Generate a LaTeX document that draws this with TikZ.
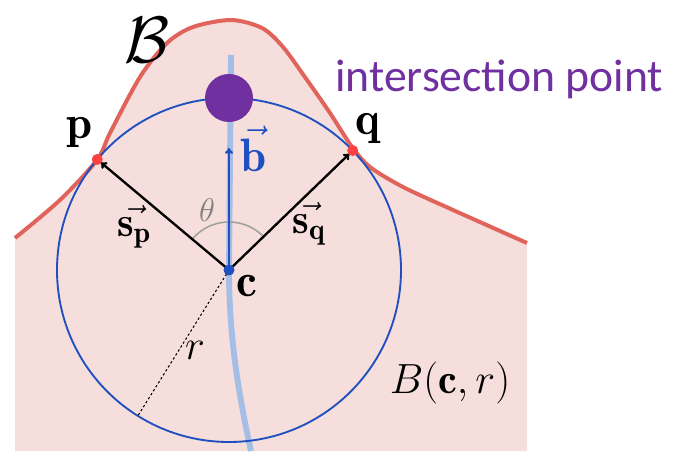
\RequirePackage{fix-cm}
\documentclass[tikz,border=0pt]{standalone}
\usepackage{amsmath,amssymb}
\usepackage{fontspec}
\newfontfamily\calibrifont{Carlito}
\usepackage{xcolor}
\usepackage{tikz}
\usetikzlibrary{arrows.meta, calc}

\definecolor{regionpink}{HTML}{F6DEDC}
\definecolor{boundred}{HTML}{E0645C}
\definecolor{ballblue}{HTML}{2050C0}
\definecolor{pathblue}{HTML}{A4BEE6}
\definecolor{ipurple}{HTML}{7030A0}
\definecolor{ptred}{HTML}{FF4040}

\begin{document}
\begin{tikzpicture}[x=0.03cm, y=0.03cm,
  lbl/.style={font=\fontsize{36}{40}\selectfont, inner sep=0pt},
  bigl/.style={font=\fontsize{40}{44}\selectfont, inner sep=0pt},
  vecarrow/.style={-{To[length=5pt, width=7pt]}, line width=2pt, shorten >=4pt}]
  \useasboundingbox (0,0) rectangle (682,451);
  % region under the boundary curve B (1 unit = 1 px of the sketch)
  \fill[regionpink] plot[smooth, tension=0.5] coordinates {(15,213) (60,251) (97,291) (110,318) (140,374) (167,408) (193,424) (231,431) (262,423) (283,404) (307,371) (330,338) (352,304) (370,284) (403,264) (453,241) (527,208)}
    -- (527,0) -- (15,0) -- cycle;
  \draw[boundred, line width=3.4pt] plot[smooth, tension=0.5] coordinates {(15,213) (60,251) (97,291) (110,318) (140,374) (167,408) (193,424) (231,431) (262,423) (283,404) (307,371) (330,338) (352,304) (370,284) (403,264) (453,241) (527,208)};
  % centre, ball radius r = 172
  \coordinate (c) at (229,181);
  \coordinate (p) at ($(c)+(140:172)$);
  \coordinate (q) at ($(c)+(44:172)$);
  \coordinate (ip) at ($(c)+(90:172)$);
  \coordinate (rend) at ($(c)+(238:172)$);
  \coordinate (btip) at ($(c)+(90:122)$);
  \coordinate (ptop) at (231,396);
  \coordinate (pbot) at (251,0);
  % light path through c
  \draw[pathblue, line width=5pt] (ptop) -- (c) .. controls (229,110) and (240,50) .. (pbot);
  \draw[ballblue, line width=1.6pt] (c) circle (172);
  % radius and angle
  \draw[dash pattern=on 2pt off 2pt, line width=0.9pt] (c) -- (rend);
  \draw[gray!75, line width=1.3pt] ($(c)+(44:48)$) arc (44:140:48);
  \draw[vecarrow] (c) -- (p);
  \draw[vecarrow] (c) -- (q);
  \draw[vecarrow, ballblue, shorten >=0pt] (c) -- (btip);
  \foreach \pt in {p, q} {
    \fill[ptred] (\pt) circle (5.5);
  }
  \fill[ballblue] (c) circle (5.5);
  \fill[ipurple] (ip) circle (24);
  % labels
  \node[bigl] (plbl) at (80,318) {$\mathbf{p}$};
  \node[bigl] (qlbl) at (368,322) {$\mathbf{q}$};
  \node[bigl] (clbl) at (247,165) {$\mathbf{c}$};
  \node[bigl, text=ballblue] (blbl) at (254,302) {$\vec{\mathbf{b}}$};
  \node[lbl] (splbl) at (134,224) {$\vec{\mathbf{s_p}}$};
  \node[lbl] (sqlbl) at (309,227) {$\vec{\mathbf{s_q}}$};
  \node[font=\fontsize{28}{32}\selectfont, text=gray, inner sep=0pt] (thlbl) at (207,241) {$\theta$};
  \node[lbl] (rlbl) at (195,101) {$r$};
  \node[lbl] (balllbl) at (450,68) {$B(\mathbf{c},r)$};
  \node[font=\fontsize{56}{60}\selectfont, inner sep=0pt] (calB) at (147,411) {$\mathcal{B}$};
  \node[font=\calibrifont\fontsize{39}{44}\selectfont, text=ipurple, anchor=base west, inner sep=0pt] (iplbl) at (335,359) {intersection point};
\end{tikzpicture}
\end{document}
